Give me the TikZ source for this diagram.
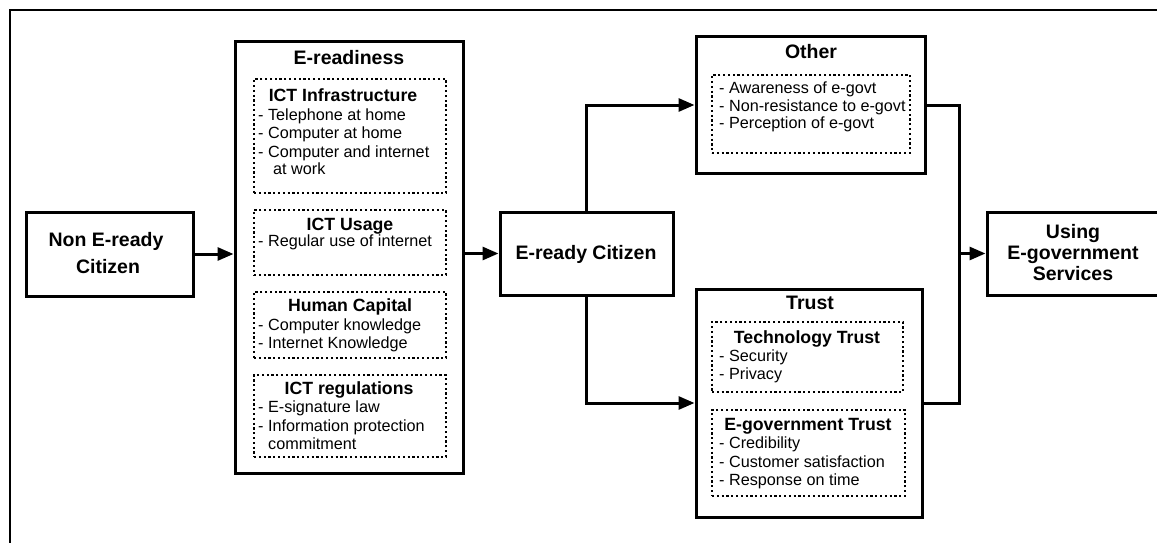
\documentclass[tikz,border=0pt]{standalone}
\usepackage{fontspec}
\setmainfont{Liberation Sans}
\usetikzlibrary{arrows.meta}
\begin{document}
\begin{tikzpicture}[x=1pt,y=-1pt,
  mainbox/.style={draw, line width=3pt, inner sep=0pt, rectangle},
  dotbox/.style={draw, line width=2.5pt, dash pattern=on 2.2pt off 2.6pt, inner sep=0pt, rectangle},
  ttl/.style={font=\fontsize{19.5}{21}\selectfont\bfseries, inner sep=0pt, anchor=base},
  sub/.style={font=\fontsize{17.7}{19}\selectfont\bfseries, inner sep=0pt, anchor=base},
  itm/.style={font=\fontsize{16.2}{18}\selectfont, inner sep=0pt, anchor=base west},
  conn/.style={line width=3pt, -{Triangle[length=16pt,width=13pt]}},
  link/.style={line width=3pt},
  frame/.style={line width=2pt}]
\useasboundingbox[fill=white] (0,0) rectangle (1157,543);
\draw[frame] (10,543) -- (10,10) -- (1157,10);

% boxes
\node[mainbox, minimum width=167pt, minimum height=84pt] (nonready) at (109.5,254) {};
\node[mainbox, minimum width=228pt, minimum height=431pt] (eread) at (349,257.5) {};
\node[dotbox, minimum width=192pt, minimum height=114pt] (infra) at (350,136) {};
\node[dotbox, minimum width=192pt, minimum height=65pt] (usage) at (350,242.5) {};
\node[dotbox, minimum width=192pt, minimum height=66pt] (human) at (350,325) {};
\node[dotbox, minimum width=192pt, minimum height=82pt] (regs) at (350,416) {};
\node[mainbox, minimum width=173pt, minimum height=83pt] (ready) at (586.5,253.5) {};
\node[mainbox, minimum width=229pt, minimum height=136pt] (other) at (810.5,105) {};
\node[dotbox, minimum width=198pt, minimum height=78pt] (otherd) at (811,114) {};
\node[mainbox, minimum width=226pt, minimum height=228pt] (trust) at (809,403) {};
\node[dotbox, minimum width=191pt, minimum height=70pt] (techd) at (807.5,357) {};
\node[dotbox, minimum width=193pt, minimum height=86pt] (egovd) at (808.5,453) {};
\node[mainbox, minimum width=178pt, minimum height=83pt] (using) at (1076,253.5) {};

% texts: left
\node[ttl] (t-non1) at (106,246.8) {Non E-ready};
\node[ttl] (t-non2) at (108,273.8) {Citizen};

% E-readiness
\node[ttl] (t-er) at (349,64.8) {E-readiness};
\node[sub] (t-infra) at (343,101.3) {ICT Infrastructure};
\node[itm] (i-inf1) at (258,120.5) {- Telephone at home};
\node[itm] (i-inf2) at (258,138.5) {- Computer at home};
\node[itm] (i-inf3) at (258,157.5) {- Computer and internet};
\node[itm] (i-inf4) at (273,174.5) {at work};
\node[sub] (t-usage) at (350,230.3) {ICT Usage};
\node[itm] (i-use1) at (258,246.5) {- Regular use of internet};
\node[sub] (t-human) at (350,311.3) {Human Capital};
\node[itm] (i-hum1) at (258,330.5) {- Computer knowledge};
\node[itm] (i-hum2) at (258,348.5) {- Internet Knowledge};
\node[sub] (t-regs) at (349,394.3) {ICT regulations};
\node[itm] (i-reg1) at (258,412.5) {- E-signature law};
\node[itm] (i-reg2) at (258,431.5) {- Information protection};
\node[itm] (i-reg3) at (268,449.5) {commitment};

% E-ready citizen
\node[ttl] (t-ready) at (586,259.8) {E-ready Citizen};

% Other
\node[ttl] (t-other) at (811,58.8) {Other};
\node[itm] (i-oth1) at (719,93.5) {- Awareness of e-govt};
\node[itm] (i-oth2) at (719,111.5) {- Non-resistance to e-govt};
\node[itm] (i-oth3) at (719,128.5) {- Perception of e-govt};

% Trust
\node[ttl] (t-trust) at (810,309.8) {Trust};
\node[sub] (t-tech) at (807,343.3) {Technology Trust};
\node[itm] (i-tec1) at (719,361.5) {- Security};
\node[itm] (i-tec2) at (719,379.5) {- Privacy};
\node[sub] (t-egov) at (808,430.3) {E-government Trust};
\node[itm] (i-egv1) at (719,448.5) {- Credibility};
\node[itm] (i-egv2) at (719,467.5) {- Customer satisfaction};
\node[itm] (i-egv3) at (719,485.5) {- Response on time};

% Using
\node[ttl] (t-use1) at (1073,238.8) {Using};
\node[ttl] (t-use2) at (1073,259.8) {E-government};
\node[ttl] (t-use3) at (1073,280.8) {Services};

% connectors
\draw[conn] (nonready.east) -- (nonready.east -| eread.west);
\draw[conn] (ready.west -| eread.east) -- (ready.west);
\draw[conn] (ready.north) |- (other.west);
\draw[conn] (ready.south) |- (trust.west);
\coordinate (merge) at (959,253.5);
\draw[link] (other.east) -| (merge) |- (trust.east);
\draw[conn] (merge) -- (using.west);
\end{tikzpicture}
\end{document}
